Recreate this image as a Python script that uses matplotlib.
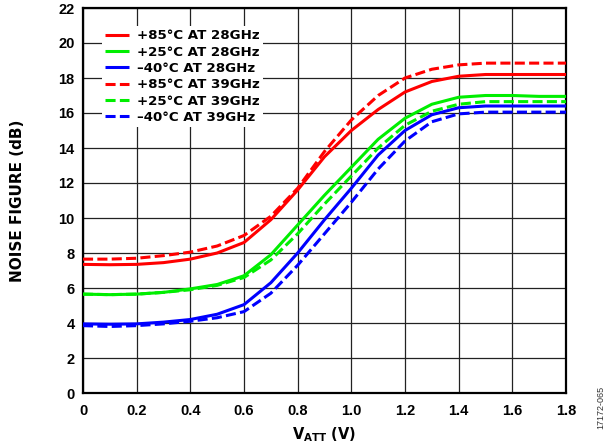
import matplotlib
matplotlib.use("Agg")
import matplotlib.pyplot as plt

plt.rcParams['font.family'] = ['Liberation Sans', 'DejaVu Sans']
plt.rcParams['font.weight'] = 'bold'
plt.rcParams['mathtext.fontset'] = 'custom'
plt.rcParams['mathtext.rm'] = 'DejaVu Sans:bold'
plt.rcParams['mathtext.it'] = 'DejaVu Sans:bold'
plt.rcParams['mathtext.bf'] = 'DejaVu Sans:bold'

# V_ATT (V)
vatt = [0.0, 0.1, 0.2, 0.3, 0.4, 0.5, 0.6, 0.7, 0.8, 0.9, 1.0, 1.1, 1.2, 1.3, 1.4, 1.5, 1.6, 1.7, 1.8]

# Noise figure (dB)
nf_85_28 = [7.35, 7.33, 7.35, 7.45, 7.65, 8.0, 8.6, 9.9, 11.6, 13.5, 15.0, 16.2, 17.2, 17.8, 18.1, 18.2, 18.2, 18.2, 18.2]
nf_25_28 = [5.65, 5.62, 5.65, 5.75, 5.95, 6.2, 6.7, 7.9, 9.6, 11.3, 12.9, 14.5, 15.7, 16.5, 16.9, 17.0, 17.0, 16.95, 16.95]
nf_m40_28 = [3.95, 3.93, 3.95, 4.05, 4.2, 4.5, 5.05, 6.3, 8.0, 9.9, 11.7, 13.6, 15.0, 15.9, 16.3, 16.4, 16.4, 16.4, 16.4]
nf_85_39 = [7.65, 7.65, 7.7, 7.85, 8.05, 8.4, 9.0, 10.1, 11.7, 13.8, 15.6, 17.0, 18.0, 18.5, 18.75, 18.85, 18.85, 18.85, 18.85]
nf_25_39 = [5.65, 5.62, 5.65, 5.75, 5.9, 6.15, 6.6, 7.6, 9.1, 10.8, 12.4, 14.0, 15.3, 16.1, 16.5, 16.65, 16.65, 16.65, 16.65]
nf_m40_39 = [3.85, 3.8, 3.85, 3.95, 4.1, 4.3, 4.65, 5.7, 7.3, 9.1, 10.9, 12.8, 14.4, 15.5, 15.95, 16.05, 16.05, 16.05, 16.05]

labels = ['+85°C AT 28GHz', '+25°C AT 28GHz', '\u201340°C AT 28GHz',
          '+85°C AT 39GHz', '+25°C AT 39GHz', '\u201340°C AT 39GHz']

xticks = [0, 0.2, 0.4, 0.6, 0.8, 1.0, 1.2, 1.4, 1.6, 1.8]
xticklabels = ['0', '0.2', '0.4', '0.6', '0.8', '1.0', '1.2', '1.4', '1.6', '1.8']
yticks = [0, 2, 4, 6, 8, 10, 12, 14, 16, 18, 20, 22]

RED, GREEN, BLUE = '#ff0000', '#00ee00', '#0000ff'
WIDE = ['DejaVu Sans']

fig = plt.figure(figsize=(6.15, 4.48), dpi=100)
ax = fig.add_axes([83/615, 1 - 393/448, (566-83)/615, (393-8)/448])

lw = 2.2
dash = (3.3, 1.4)
series = [
    (nf_85_28, RED, '-'), (nf_25_28, GREEN, '-'), (nf_m40_28, BLUE, '-'),
    (nf_85_39, RED, '--'), (nf_25_39, GREEN, '--'), (nf_m40_39, BLUE, '--'),
]
for (vals, col, ls), lab in zip(series, labels):
    line, = ax.plot(vatt, vals, color=col, lw=lw, label=lab, zorder=3,
                    solid_capstyle='butt', dash_capstyle='butt')
    if ls == '--':
        line.set_dashes(dash)

ax.set_xlim(0, 1.8)
ax.set_ylim(0, 22)
ax.set_xticks(xticks)
ax.set_xticklabels(xticklabels)
ax.set_yticks(yticks)
ax.tick_params(axis='both', length=0, labelsize=10.5)
ax.tick_params(axis='x', pad=8)
ax.tick_params(axis='y', pad=6)
ax.grid(True, color='#222222', lw=0.9)
for s in ax.spines.values():
    s.set_linewidth(1.6)
    s.set_color('black')

leg = ax.legend(loc='upper left', bbox_to_anchor=((102-83)/483, 1 - (26-8)/385),
                borderaxespad=0, frameon=True, fancybox=False, framealpha=1,
                facecolor='white', edgecolor='none',
                prop={'family': WIDE, 'weight': 'bold', 'size': 9.6},
                handlelength=1.8, handletextpad=0.6, labelspacing=0.25,
                borderpad=0.25)
leg.set_zorder(5)

ax.set_ylabel('NOISE FIGURE (dB)', fontsize=11, fontweight='bold',
              family=WIDE, labelpad=24)
ax.set_xlabel(r'$\mathrm{V_{ATT}}$ (V)', fontsize=10.5, fontweight='bold',
              family=WIDE, labelpad=5)

fig.text(601/615, 1 - 407/448, '17172-065', rotation=90, fontsize=6.5,
         fontweight='normal', ha='center', va='center', color='#333333')

fig.savefig('out.png', dpi=100)
